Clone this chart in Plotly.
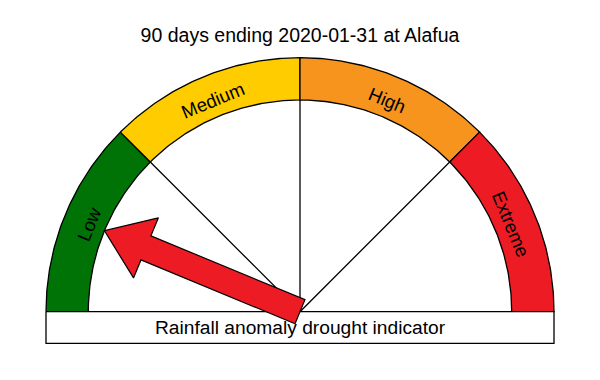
import numpy as np
import plotly.graph_objects as go

# ---- data ----
categories = ["Low", "Medium", "High", "Extreme"]
colors = ["#007306", "#FFCC00", "#F7941D", "#ED1C24"]
current_category = "Low"
title_text = "90 days ending 2020-01-31 at Alafua"
box_text = "Rainfall anomaly drought indicator"

# ---- geometry (in units of outer radius) ----
R_OUT = 1.0
R_IN = 0.8335
BOX_H = 0.1244
SHAFT_HW = 0.0512
HEAD_HW = 0.128
HEAD_LEN = 0.177
LABEL_INSET = 0.018
FONT = "Liberation Sans, Arial, Helvetica, sans-serif"

n = len(categories)
step = 180.0 / n

fig = go.Figure()

# sectors
for i, (cat, col) in enumerate(zip(categories, colors)):
    a1 = 180 - i * step
    a2 = 180 - (i + 1) * step
    t = np.radians(np.linspace(a1, a2, 80))
    xs = np.concatenate([R_OUT * np.cos(t), R_IN * np.cos(t[::-1]), [R_OUT * np.cos(t[0])]])
    ys = np.concatenate([R_OUT * np.sin(t), R_IN * np.sin(t[::-1]), [R_OUT * np.sin(t[0])]])
    fig.add_trace(go.Scatter(x=xs, y=ys, mode="lines", fill="toself", fillcolor=col,
                             line=dict(color="black", width=1.3), hoverinfo="skip",
                             showlegend=False))
    mid = np.radians((a1 + a2) / 2)
    rm = (R_OUT + R_IN) / 2 - LABEL_INSET
    fig.add_annotation(x=rm * np.cos(mid), y=rm * np.sin(mid), text=cat, showarrow=False,
                       textangle=90 - (a1 + a2) / 2,
                       font=dict(family=FONT, size=18.6, color="black"),
                       xanchor="center", yanchor="middle")

# spokes
for i in range(1, n):
    a = np.radians(180 - i * step)
    fig.add_trace(go.Scatter(x=[0, R_IN * np.cos(a)], y=[0, R_IN * np.sin(a)], mode="lines",
                             line=dict(color="black", width=1.3), hoverinfo="skip",
                             showlegend=False))

# box
fig.add_trace(go.Scatter(x=[-R_OUT, R_OUT, R_OUT, -R_OUT, -R_OUT],
                         y=[0, 0, -BOX_H, -BOX_H, 0], mode="lines", fill="toself",
                         fillcolor="white", line=dict(color="black", width=1.3),
                         hoverinfo="skip", showlegend=False))
fig.add_annotation(x=0, y=-BOX_H / 2, text=box_text, showarrow=False,
                   font=dict(family=FONT, size=19.2, color="black"),
                   xanchor="center", yanchor="middle")

# arrow
idx = categories.index(current_category)
ang = np.radians(180 - (idx + 0.5) * step)
u = np.array([np.cos(ang), np.sin(ang)])
p = np.array([-u[1], u[0]])
tail = np.array([0.0, 0.0])
tip = tail + R_IN * u
base = tip - HEAD_LEN * u
pts = [tail + SHAFT_HW * p, base + SHAFT_HW * p, base + HEAD_HW * p, tip,
       base - HEAD_HW * p, base - SHAFT_HW * p, tail - SHAFT_HW * p, tail + SHAFT_HW * p]
pts = np.array(pts)
fig.add_trace(go.Scatter(x=pts[:, 0], y=pts[:, 1], mode="lines", fill="toself",
                         fillcolor="#ED1C24", line=dict(color="black", width=1.2),
                         hoverinfo="skip", showlegend=False))

W, H = 600, 380
OFF = 8  # page body margin
CX, CY, RPX = 300 - OFF, 311.7 - OFF, 254
fig.update_layout(
    width=W, height=H,
    margin=dict(l=0, r=0, t=0, b=0),
    paper_bgcolor="white", plot_bgcolor="white",
    xaxis=dict(range=[-CX / RPX, (W - CX) / RPX], visible=False, fixedrange=True),
    yaxis=dict(range=[-(H - CY) / RPX, CY / RPX], visible=False, fixedrange=True),
    title=dict(text=title_text, x=(300 - OFF) / W, xanchor="center",
               y=1 - (35 - OFF) / H, yanchor="middle",
               font=dict(family=FONT, size=19.5, color="black")),
)

fig.write_html("out.html")
